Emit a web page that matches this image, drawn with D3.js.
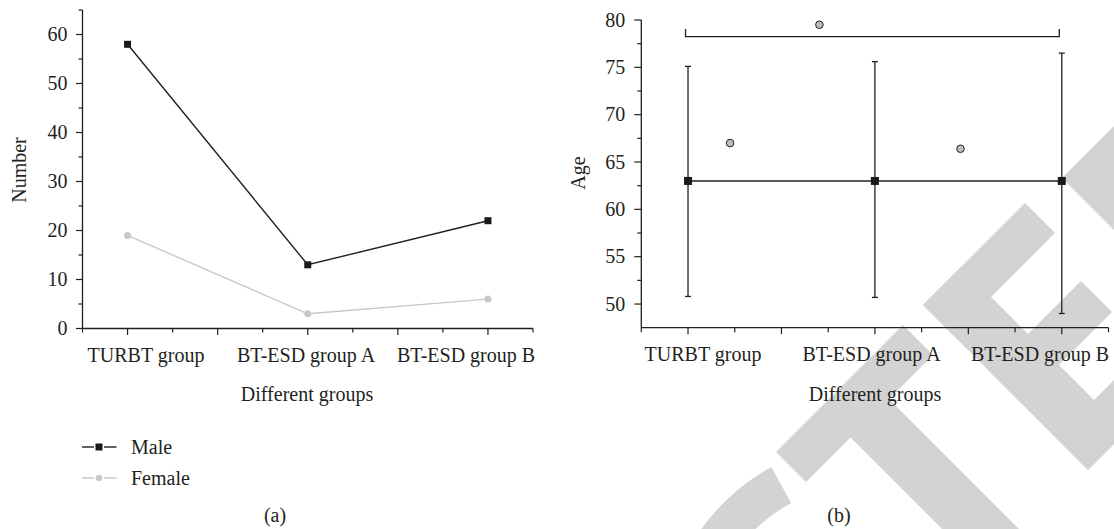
<!DOCTYPE html>
<html>
<head>
<meta charset="utf-8">
<script src="https://cdn.jsdelivr.net/npm/d3@7"></script>
<style>
  html, body { margin: 0; padding: 0; background: #fff; }
  svg { display: block; }
  text { font-family: "Liberation Serif", "Times New Roman", serif; fill: #231f20; }
</style>
</head>
<body>
<svg id="chart" width="1114" height="529"></svg>
<script>
// ---------- data ----------
const categories = ["TURBT group", "BT-ESD group A", "BT-ESD group B"];
const maleCounts = [58, 13, 22];
const femaleCounts = [19, 3, 6];
const seriesNames = ["Male", "Female"];

const numberTicks = [0, 10, 20, 30, 40, 50, 60];
const ageTicks = [50, 55, 60, 65, 70, 75, 80];

const ageMean = [63, 63, 63];
const ageLow = [50.8, 50.7, 49.0];
const ageHigh = [75.1, 75.6, 76.5];

// significance markers (category-index position, age value)
const markerPos = [0.225, 0.703, 1.458];
const markerAge = [67.0, 79.5, 66.4];
const bracketAge = [78.25, 79.05];

const panelLabels = ["(a)", "(b)"];
const xTitle = "Different groups";
const yTitleA = "Number";
const yTitleB = "Age";

// ---------- setup ----------
const ink = "#231f20";
const grayLine = "#c8c8c8";
const wmColor = "#d3d3d3";
const svg = d3.select("#chart");
const FS = 20;

// ---------- background watermark (decorative diagonal "RETRACTED" letters) ----------
const wm = svg.append("g");
// point from diagonal coordinates u = x + y, v = y - x
const P = (u, v) => [(u - v) / 2, (u + v) / 2];
const R = (u0, u1, v0, v1) => [P(u0, v0), P(u1, v0), P(u1, v1), P(u0, v1)];
const polys = [
  R(1228, 1288, -578, -324),   // T bar
  R(1258, 1900, -490, -413),   // T stem
  R(1228, 1288, -822, -618),   // E top
  R(1228, 1558, -694, -618),   // E stem
  R(1362, 1424, -800, -618),   // E middle
  R(1494, 1558, -822, -618),   // E bottom
  R(1240, 1800, -1400, -884)   // D
];
wm.selectAll("polygon").data(polys).join("polygon")
  .attr("points", d => d.map(p => p.join(",")).join(" ")).attr("fill", wmColor);
wm.append("path")
  .attr("transform", "translate(876,656)")
  .attr("d", d3.arc()({ innerRadius: 175, outerRadius: 216, startAngle: -2.6, endAngle: -0.506 }))
  .attr("fill", wmColor);

function quarterTicks() { return d3.range(-0.25, 2.25 + 1e-9, 0.25); }

// ================= Panel (a) =================
const gA = svg.append("g");
const xA = d3.scaleLinear().domain([-0.25, 2.25]).range([82.5, 533]);
const yA = d3.scaleLinear().domain([0, 65]).range([328.5, 10]);
const labA = d3.scalePoint().domain(categories).range([146, 466]);

gA.append("line").attr("x1", xA(-0.25)).attr("x2", xA(-0.25)).attr("y1", yA(0)).attr("y2", yA(65))
  .attr("stroke", ink).attr("stroke-width", 1.3);
d3.range(0, 65 + 1e-9, 5).forEach(v => {
  const major = v % 10 === 0;
  gA.append("line").attr("x1", xA(-0.25)).attr("x2", xA(-0.25) - (major ? 6.5 : 4))
    .attr("y1", yA(v)).attr("y2", yA(v)).attr("stroke", ink).attr("stroke-width", 1.2);
});
gA.selectAll(".ytl").data(numberTicks).join("text")
  .attr("x", xA(-0.25) - 15).attr("y", d => yA(d)).attr("dy", "0.33em")
  .attr("text-anchor", "end").attr("font-size", FS).text(d => d);

gA.append("line").attr("x1", xA(-0.25)).attr("x2", xA(2.25)).attr("y1", yA(0)).attr("y2", yA(0))
  .attr("stroke", ink).attr("stroke-width", 1.3);
quarterTicks().forEach(v => {
  const major = Math.abs(v * 2 - Math.round(v * 2)) < 1e-6;
  gA.append("line").attr("x1", xA(v)).attr("x2", xA(v)).attr("y1", yA(0)).attr("y2", yA(0) + (major ? 6.5 : 4))
    .attr("stroke", ink).attr("stroke-width", 1.2);
});
gA.selectAll(".xtl").data(categories).join("text")
  .attr("x", d => labA(d)).attr("y", 362).attr("text-anchor", "middle").attr("font-size", FS).text(d => d);

gA.append("text").attr("x", 307).attr("y", 401).attr("text-anchor", "middle").attr("font-size", FS).text(xTitle);
gA.append("text").attr("transform", "translate(26,170) rotate(-90)").attr("text-anchor", "middle")
  .attr("font-size", FS).text(yTitleA);

const lineA = d3.line().x((d, i) => xA(i)).y(d => yA(d));
gA.append("path").datum(femaleCounts).attr("d", lineA).attr("fill", "none").attr("stroke", grayLine).attr("stroke-width", 1.4);
gA.append("path").datum(maleCounts).attr("d", lineA).attr("fill", "none").attr("stroke", ink).attr("stroke-width", 1.4);
gA.selectAll(".fpt").data(femaleCounts).join("circle")
  .attr("cx", (d, i) => xA(i)).attr("cy", d => yA(d)).attr("r", 3.5).attr("fill", grayLine);
gA.selectAll(".mpt").data(maleCounts).join("rect")
  .attr("x", (d, i) => xA(i) - 3.5).attr("y", d => yA(d) - 3.5).attr("width", 7).attr("height", 7).attr("fill", "#1a1a1a");

// legend
const legY = [447, 478];
seriesNames.forEach((name, i) => {
  const col = i === 0 ? ink : grayLine;
  const y = legY[i];
  gA.append("line").attr("x1", 82).attr("x2", 94).attr("y1", y).attr("y2", y).attr("stroke", col).attr("stroke-width", 1.4);
  gA.append("line").attr("x1", 104).attr("x2", 116.5).attr("y1", y).attr("y2", y).attr("stroke", col).attr("stroke-width", 1.4);
  if (i === 0) gA.append("rect").attr("x", 95.5).attr("y", y - 3.5).attr("width", 7).attr("height", 7).attr("fill", "#1a1a1a");
  else gA.append("circle").attr("cx", 99).attr("cy", y).attr("r", 3.2).attr("fill", grayLine);
  gA.append("text").attr("x", 131).attr("y", y + 6.5).attr("font-size", FS).text(name);
});
gA.append("text").attr("x", 275).attr("y", 522).attr("text-anchor", "middle").attr("font-size", FS).text(panelLabels[0]);

// ================= Panel (b) =================
const gB = svg.append("g");
const xB = d3.scaleLinear().domain([-0.25, 2.25]).range([641.3, 1108.5]);
const yB = d3.scaleLinear().domain([47.5, 80]).range([327.7, 20]);
const labB = d3.scalePoint().domain(categories).range([703, 1040]);

gB.append("line").attr("x1", xB(-0.25)).attr("x2", xB(-0.25)).attr("y1", yB(47.5)).attr("y2", yB(80))
  .attr("stroke", ink).attr("stroke-width", 1.3);
d3.range(50, 80 + 1e-9, 2.5).forEach(v => {
  const major = v % 5 === 0;
  gB.append("line").attr("x1", xB(-0.25)).attr("x2", xB(-0.25) - (major ? 7 : 4))
    .attr("y1", yB(v)).attr("y2", yB(v)).attr("stroke", ink).attr("stroke-width", 1.2);
});
gB.selectAll(".ytl").data(ageTicks).join("text")
  .attr("x", xB(-0.25) - 16).attr("y", d => yB(d)).attr("dy", "0.33em")
  .attr("text-anchor", "end").attr("font-size", FS).text(d => d);

gB.append("line").attr("x1", xB(-0.25)).attr("x2", xB(2.25)).attr("y1", yB(47.5)).attr("y2", yB(47.5))
  .attr("stroke", ink).attr("stroke-width", 1.3);
quarterTicks().forEach(v => {
  const major = Math.abs(v * 2 - Math.round(v * 2)) < 1e-6;
  gB.append("line").attr("x1", xB(v)).attr("x2", xB(v)).attr("y1", yB(47.5)).attr("y2", yB(47.5) + (major ? 6.5 : 4.5))
    .attr("stroke", ink).attr("stroke-width", 1.2);
});
gB.selectAll(".xtl").data(categories).join("text")
  .attr("x", d => labB(d)).attr("y", 361).attr("text-anchor", "middle").attr("font-size", FS).text(d => d);

gB.append("text").attr("x", 875).attr("y", 401).attr("text-anchor", "middle").attr("font-size", FS).text(xTitle);
gB.append("text").attr("transform", "translate(585,173) rotate(-90)").attr("text-anchor", "middle")
  .attr("font-size", FS).text(yTitleB);

gB.append("path")
  .attr("d", `M${xB(0) - 2.5},${yB(bracketAge[1])}V${yB(bracketAge[0])}H${xB(2) - 2.5}V${yB(bracketAge[1])}`)
  .attr("fill", "none").attr("stroke", ink).attr("stroke-width", 1.3);

categories.forEach((c, i) => {
  const x = xB(i);
  gB.append("line").attr("x1", x).attr("x2", x).attr("y1", yB(ageLow[i])).attr("y2", yB(ageHigh[i]))
    .attr("stroke", ink).attr("stroke-width", 1.3);
  [ageLow[i], ageHigh[i]].forEach(v => {
    gB.append("line").attr("x1", x - 3).attr("x2", x + 3).attr("y1", yB(v)).attr("y2", yB(v))
      .attr("stroke", ink).attr("stroke-width", 1.3);
  });
});
const lineB = d3.line().x((d, i) => xB(i)).y(d => yB(d));
gB.append("path").datum(ageMean).attr("d", lineB).attr("fill", "none").attr("stroke", ink).attr("stroke-width", 1.4);
gB.selectAll(".mpt").data(ageMean).join("rect")
  .attr("x", (d, i) => xB(i) - 4).attr("y", d => yB(d) - 4).attr("width", 8).attr("height", 8).attr("fill", "#1a1a1a");

gB.selectAll(".sig").data(markerPos).join("circle")
  .attr("cx", d => xB(d)).attr("cy", (d, i) => yB(markerAge[i])).attr("r", 3.8)
  .attr("fill", "#bdbdbd").attr("stroke", ink).attr("stroke-width", 1);

gB.append("text").attr("x", 839).attr("y", 522).attr("text-anchor", "middle").attr("font-size", FS).text(panelLabels[1]);
</script>
</body>
</html>
